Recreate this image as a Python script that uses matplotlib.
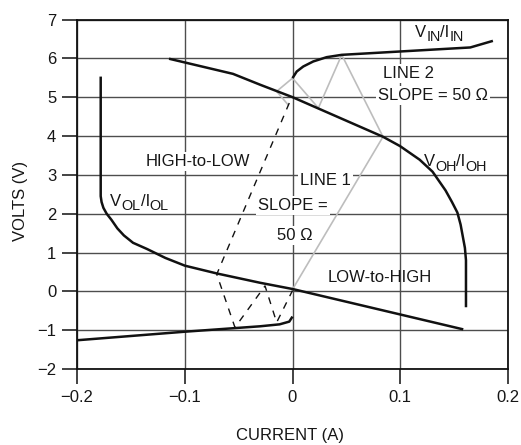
import matplotlib
matplotlib.use("Agg")
import matplotlib.pyplot as plt
from matplotlib import font_manager

# ---------------- data ----------------
vin_hi_i = [0.0, 0.0039, 0.010, 0.0193, 0.0317, 0.0457, 0.165, 0.186]
vin_hi_v = [5.49, 5.66, 5.79, 5.92, 6.03, 6.09, 6.28, 6.45]

vin_lo_i = [-0.2, -0.1, -0.03, -0.012, -0.003, 0.0]
vin_lo_v = [-1.26, -1.04, -0.90, -0.85, -0.78, -0.65]

voh_i = [-0.1146, -0.0552, -0.030, 0.0, 0.084, 0.0998, 0.118, 0.130, 0.137,
         0.142, 0.148, 0.153, 0.156, 0.158, 0.160, 0.161, 0.161]
voh_v = [5.99, 5.60, 5.32, 5.00, 3.98, 3.74, 3.39, 3.08, 2.80,
         2.60, 2.30, 2.03, 1.72, 1.42, 1.12, 0.80, -0.41]

vol_i = [-0.178, -0.178, -0.1772, -0.1755, -0.1725, -0.1680, -0.1625, -0.1565,
         -0.1480, -0.1350, -0.1180, -0.0998, -0.0702, -0.030, 0.0, 0.1585]
vol_v = [5.53, 2.45, 2.30, 2.15, 2.00, 1.84, 1.62, 1.44,
         1.25, 1.09, 0.86, 0.66, 0.46, 0.22, 0.06, -0.98]

# LOW-to-HIGH bounce path (grey)
lh_i = [0.0, 0.084, 0.0457, 0.024, 0.0, -0.0147, -0.004]
lh_v = [0.05, 3.98, 6.09, 4.72, 5.49, 5.15, 4.80]

# HIGH-to-LOW bounce path (dashed)
hl_i = [-0.003, -0.0703, -0.0534, -0.0255, -0.0147, 0.0]
hl_v = [4.85, 0.44, -0.93, 0.14, -0.80, 0.02]

x_ticks = [-0.2, -0.1, 0, 0.1, 0.2]
x_tick_labels = ["\u22120.2", "\u22120.1", "0", "0.1", "0.2"]
y_ticks = [-2, -1, 0, 1, 2, 3, 4, 5, 6, 7]
y_tick_labels = ["\u22122", "\u22121", "0", "1", "2", "3", "4", "5", "6", "7"]

# ---------------- fonts ----------------
names = {f.name for f in font_manager.fontManager.ttflist}
if "Liberation Sans Narrow" in names:
    fam = "Liberation Sans Narrow"
    fs = 14
else:
    fam = "Liberation Sans"
    fs = 12
plt.rcParams["font.family"] = [fam, "DejaVu Sans"]

fig = plt.figure(figsize=(5.21, 4.45), dpi=100)
ax = fig.add_axes([77 / 521, 1 - 369 / 445, (508 - 77) / 521, (369 - 19.5) / 445])

ax.set_xlim(-0.2, 0.2)
ax.set_ylim(-2, 7)
ax.set_xticks(x_ticks)
ax.set_xticklabels(x_tick_labels)
ax.set_yticks(y_ticks)
ax.set_yticklabels(y_tick_labels)
tc = "#161616"
ax.tick_params(direction="out", length=11, width=1.2, color="#222", pad=4,
               labelsize=fs, labelcolor=tc)
ax.set_axisbelow(True)
ax.grid(True, color="#4d4d4d", lw=1.0)
for s in ax.spines.values():
    s.set_color("#111")
    s.set_linewidth(1.3)

# curves
lc = "#111111"
ax.plot(vin_hi_i, vin_hi_v, color=lc, lw=1.8, zorder=4, solid_capstyle="butt")
ax.plot(vin_lo_i, vin_lo_v, color=lc, lw=1.8, zorder=4, solid_capstyle="butt")
ax.plot(voh_i, voh_v, color=lc, lw=1.8, zorder=4, solid_capstyle="butt")
ax.plot(vol_i, vol_v, color=lc, lw=1.8, zorder=4, solid_capstyle="butt")
ax.plot(lh_i, lh_v, color="#bdbdbd", lw=1.2, zorder=3)
ax.plot(hl_i, hl_v, color=lc, lw=1.0, zorder=3, linestyle=(0, (5, 5)))

# labels
box = dict(facecolor="white", edgecolor="none", pad=1.5)

def lab(x, y, s, bbox=True):
    ax.text(x, y, s, fontsize=fs, color=tc, ha="left", va="baseline",
            zorder=2, bbox=box if bbox else None)

renderer = fig.canvas.get_renderer()

def sub_label(x, y, parts):
    """parts: list of (text, is_subscript); chained left to right."""
    off = 0.0
    for txt, is_sub in parts:
        size = fs * 0.86 if is_sub else fs
        dy = -3.2 if is_sub else 0.0
        t = ax.annotate(txt, (x, y), xycoords="data", xytext=(off, dy),
                        textcoords="offset points", fontsize=size, color=tc,
                        ha="left", va="baseline", zorder=2)
        w = t.get_window_extent(renderer).width * 72.0 / fig.dpi
        off += w

lab(0.084, 5.50, "LINE 2")
lab(0.0794, 4.93, "SLOPE = 50 \u03a9")
lab(-0.136, 3.23, "HIGH-to-LOW")
lab(0.007, 2.74, "LINE 1")
lab(-0.032, 2.10, "SLOPE =")
lab(-0.0144, 1.32, "50 \u03a9")
lab(0.033, 0.24, "LOW-to-HIGH", bbox=False)

sub_label(0.1137, 6.56, [("V", False), ("IN", True), ("/I", False), ("IN", True)])
sub_label(0.122, 3.22, [("V", False), ("OH", True), ("/I", False), ("OH", True)])
sub_label(-0.169, 2.20, [("V", False), ("OL", True), ("/I", False), ("OL", True)])

ax.set_xlabel("CURRENT (A)", fontsize=fs, color=tc)
ax.set_ylabel("VOLTS (V)", fontsize=fs, color=tc)
ax.xaxis.label.set_va("center")
ax.yaxis.label.set_va("center")
ax.xaxis.set_label_coords(0.494, -0.189)
ax.yaxis.set_label_coords(-0.132, 0.48)

fig.savefig("out.png", dpi=100)
